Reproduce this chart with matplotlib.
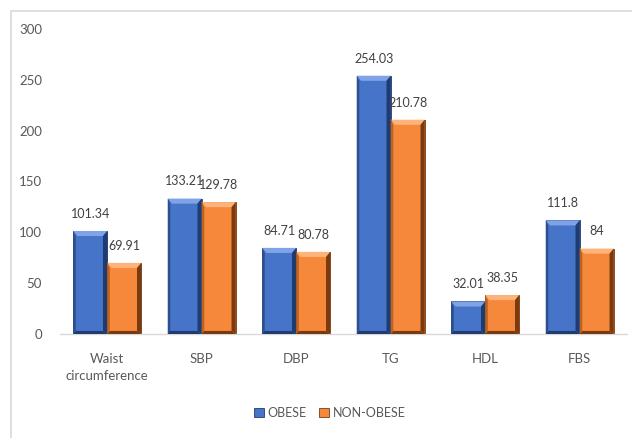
import matplotlib
matplotlib.use("Agg")
import matplotlib.pyplot as plt
from matplotlib.patches import Polygon, Rectangle
import numpy as np

categories = ["Waist\ncircumference", "SBP", "DBP", "TG", "HDL", "FBS"]
obese = [101.34, 133.21, 84.71, 254.03, 32.01, 111.8]
non_obese = [69.91, 129.78, 80.78, 210.78, 38.35, 84]
obese_labels = ["101.34", "133.21", "84.71", "254.03", "32.01", "111.8"]
non_obese_labels = ["69.91", "129.78", "80.78", "210.78", "38.35", "84"]
yticks = [0, 50, 100, 150, 200, 250, 300]

plt.rcParams["font.family"] = ["Lato", "DejaVu Sans"]
text_color = "#595959"

fig = plt.figure(figsize=(6.32, 4.38), dpi=100)
fig.patches.append(Rectangle((11 / 632, -0.1), 1.2, 1 - 11 / 438 + 0.1,
                             transform=fig.transFigure, fill=False,
                             edgecolor="#D9D9D9", linewidth=1.2))
ax = fig.add_axes([60 / 632, 1 - 334 / 438, 567 / 632, 305 / 438])

x = np.arange(len(categories))
w = 0.36

series = [
    (obese, obese_labels, -w / 2, "#4674C8", "#7FA3E6", "#1F3C70", "#2D4F8F", "OBESE"),
    (non_obese, non_obese_labels, w / 2, "#F5883A", "#FDB37A", "#7A3A10", "#C0621F", "NON-OBESE"),
]

bx, by = 0.045, 5.0  # bevel depth in data units
for vals, labs, off, face, light, dark, mid, name in series:
    bars = ax.bar(x + off, vals, w, color=face, edgecolor=dark, linewidth=0.6,
                  label=name, zorder=2)
    for rect, lab in zip(bars, labs):
        x0 = rect.get_x()
        x1 = x0 + rect.get_width()
        top = rect.get_height()
        bh = min(by, top / 3)
        # top bevel
        ax.add_patch(Polygon([(x0, top), (x1, top), (x1 - bx, top - bh), (x0 + bx, top - bh)],
                             closed=True, facecolor=light, edgecolor="none", zorder=3))
        # right bevel
        ax.add_patch(Polygon([(x1, top), (x1, 0), (x1 - bx, bh * 0.6), (x1 - bx, top - bh)],
                             closed=True, facecolor=dark, edgecolor="none", zorder=3))
        # left bevel
        ax.add_patch(Polygon([(x0, top), (x0, 0), (x0 + bx * 0.6, bh * 0.6), (x0 + bx * 0.6, top - bh)],
                             closed=True, facecolor=mid, edgecolor="none", zorder=3))
        # bottom bevel
        ax.add_patch(Polygon([(x0, 0), (x1, 0), (x1 - bx, bh * 0.6), (x0 + bx * 0.6, bh * 0.6)],
                             closed=True, facecolor=dark, edgecolor="none", zorder=3))
        ax.annotate(lab, (rect.get_x() + rect.get_width() / 2, top),
                    xytext=(0, 8), textcoords="offset points",
                    ha="center", va="bottom", fontsize=9, color="#404040")

ax.set_xlim(-0.5, len(categories) - 0.5)
ax.set_ylim(0, 300)
ax.set_yticks(yticks)
ax.set_yticklabels([str(t) for t in yticks])
ax.set_xticks(x)
ax.set_xticklabels(categories, linespacing=1.5)
ax.tick_params(axis="y", length=0, pad=13, labelsize=9.5, labelcolor=text_color)
ax.tick_params(axis="x", length=0, pad=14, labelsize=9.5, labelcolor=text_color)
for s in ["top", "right", "left"]:
    ax.spines[s].set_visible(False)
ax.spines["bottom"].set_color("#D9D9D9")
ax.spines["bottom"].set_linewidth(1.0)

leg = fig.legend(loc="center", bbox_to_anchor=(330 / 632, 1 - 413 / 438), ncol=2,
                 frameon=False, fontsize=9, handlelength=0.8, handleheight=0.8,
                 handletextpad=0.3, columnspacing=1.0, labelcolor=text_color)

fig.savefig("out.png", dpi=100)
